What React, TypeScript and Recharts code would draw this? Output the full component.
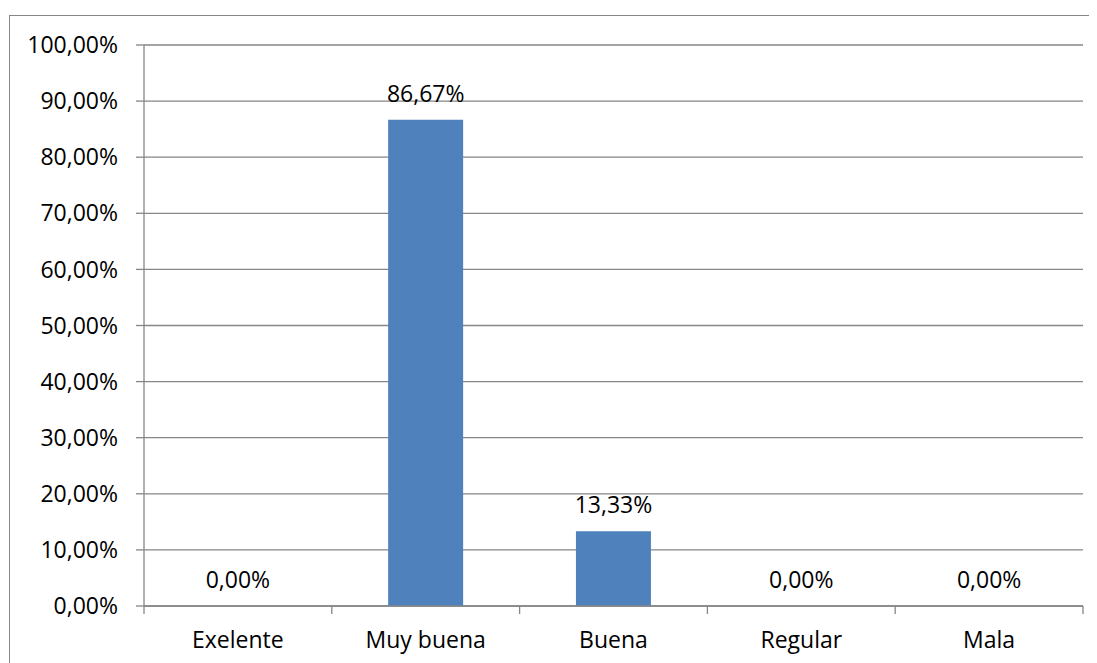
import { Bar, CartesianGrid, ComposedChart, LabelList, Line, XAxis, YAxis } from "recharts"

const categories = ["Exelente", "Muy buena", "Buena", "Regular", "Mala"]
const percentages = [0, 86.67, 13.33, 0, 0]
const yTicks = [0, 10, 20, 30, 40, 50, 60, 70, 80, 90, 100]

const data = categories.map((name, i) => ({ name, value: percentages[i] }))

const CHART_W = 1087
const CHART_H = 647
const Y_AXIS_W = 134
const RIGHT = 14
const BAND = (CHART_W - Y_AXIS_W - RIGHT) / categories.length

const FONT = "'Open Sans', sans-serif"
const FONT_SIZE = 23
const GRID = "#868686"

const fmt = (v: number) => v.toFixed(2).replace(".", ",") + "%"

function CategoryTick(props: any) {
  const { x, y, payload, index } = props
  const axisY = y - 26
  return (
    <g>
      <line x1={x - BAND / 2} x2={x - BAND / 2} y1={axisY} y2={axisY + 8} stroke={GRID} strokeWidth={1.3} />
      {index === categories.length - 1 && (
        <line x1={x + BAND / 2} x2={x + BAND / 2} y1={axisY} y2={axisY + 8} stroke={GRID} strokeWidth={1.3} />
      )}
      <text x={x} y={y} dy="0.71em" textAnchor="middle" fill="#000" fontSize={FONT_SIZE} fontFamily={FONT}>
        {payload.value}
      </text>
    </g>
  )
}

export default function App() {
  return (
    <>
      <style>{`html, body { overflow: hidden; }`}</style>
      <div
        style={{
          marginLeft: 1,
          marginTop: 7,
          width: CHART_W,
          height: CHART_H,
          borderTop: `1px solid ${GRID}`,
          borderLeft: `1px solid ${GRID}`,
          background: "#fff",
        }}
      >
        <ComposedChart
          width={CHART_W}
          height={CHART_H}
          data={data}
          margin={{ top: 29, right: RIGHT, bottom: 0, left: 0 }}
          barCategoryGap="30%"
        >
          <CartesianGrid vertical={false} stroke={GRID} strokeWidth={1.3} />
          <XAxis
            dataKey="name"
            height={57}
            axisLine={{ stroke: GRID, strokeWidth: 1.3 }}
            tickLine={false}
            tickSize={8}
            tickMargin={18}
            tick={<CategoryTick />}
            interval={0}
          />
          <YAxis
            width={Y_AXIS_W}
            domain={[0, 100]}
            ticks={yTicks}
            tickFormatter={fmt}
            axisLine={{ stroke: GRID, strokeWidth: 1.3 }}
            tickLine={{ stroke: GRID, strokeWidth: 1.3 }}
            tickSize={8}
            tickMargin={18}
            tick={{ fill: "#000", fontSize: FONT_SIZE, fontFamily: FONT }}
            interval={0}
          />
          <Bar dataKey="value" fill="#4F81BD" isAnimationActive={false} />
          <Line
            dataKey="value"
            stroke="none"
            dot={false}
            activeDot={false}
            isAnimationActive={false}
          >
            <LabelList
              dataKey="value"
              position="top"
              offset={18}
              formatter={(v: any) => fmt(Number(v))}
              style={{ fill: "#000", fontSize: FONT_SIZE, fontFamily: FONT }}
            />
          </Line>
        </ComposedChart>
      </div>
    </>
  )
}
